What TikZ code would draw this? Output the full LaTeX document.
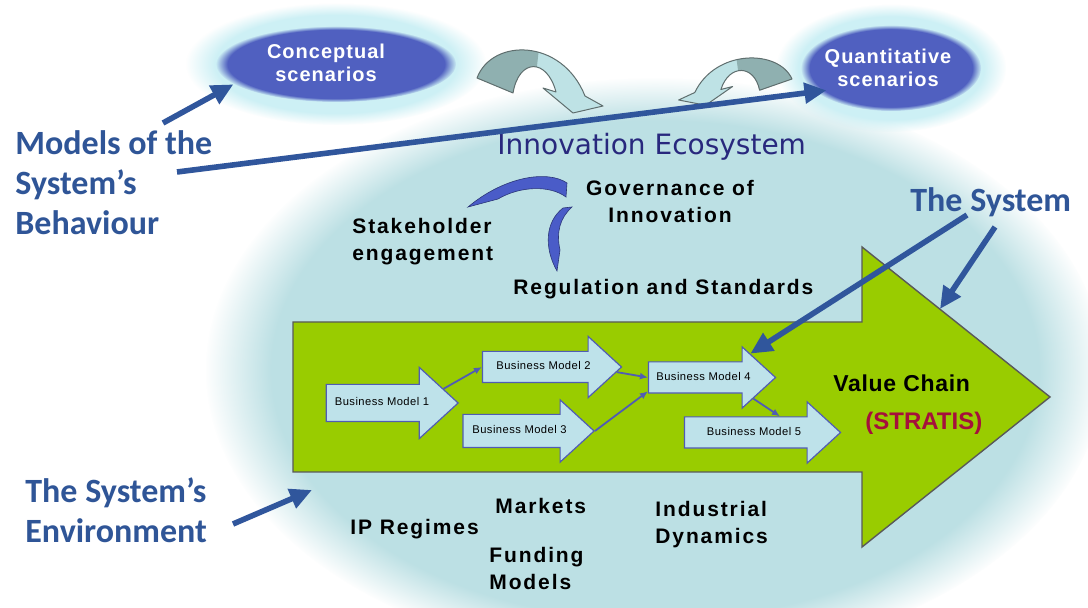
\documentclass[tikz,border=0pt]{standalone}
\usepackage{fontspec}
\setmainfont{Liberation Sans}
\newfontfamily\arsp[LetterSpace=9]{Liberation Sans}
\newfontfamily\arspb[LetterSpace=5]{Liberation Sans}
\newfontfamily\arspc[LetterSpace=3]{Liberation Sans}
\newfontfamily\bmfont[LetterSpace=4]{Liberation Sans}
\newfontfamily\calib{Carlito}
\newfontfamily\dejav{DejaVu Sans}
\usetikzlibrary{shapes.arrows,shapes.geometric,arrows.meta,fadings}
\definecolor{bgc}{RGB}{188,224,228}
\definecolor{vgreen}{RGB}{153,204,0}
\definecolor{bmfill}{RGB}{190,226,234}
\definecolor{bmline}{RGB}{80,92,180}
\definecolor{cloudb}{RGB}{80,96,192}
\definecolor{glowc}{RGB}{205,240,245}
\definecolor{lblue}{RGB}{47,85,151}
\definecolor{ablue}{RGB}{48,86,156}
\definecolor{navy}{RGB}{40,40,125}
\definecolor{crim}{RGB}{165,15,60}
\definecolor{swoosh}{RGB}{74,92,200}
\definecolor{arcdark}{RGB}{143,176,176}
\definecolor{arclight}{RGB}{190,226,229}
\definecolor{arcline}{RGB}{95,110,110}
\tikzset{carc/.pic={
  \fill[arclight] (0,28) .. controls (15,-12) and (85,-12) .. (108,46) -- (126,56) -- (96,63) -- (66,38) -- (79,42) .. controls (70,8) and (42,8) .. (36,43) -- cycle;
  \begin{scope}
    \clip (-5,-20) -- (64,-20) -- (54,70) -- (-5,70) -- cycle;
    \fill[arcdark] (0,28) .. controls (15,-12) and (85,-12) .. (108,46) -- (126,56) -- (96,63) -- (66,38) -- (79,42) .. controls (70,8) and (42,8) .. (36,43) -- cycle;
  \end{scope}
  \draw[arcline, line width=0.5pt, line join=round] (0,28) .. controls (15,-12) and (85,-12) .. (108,46) -- (126,56) -- (96,63) -- (66,38) -- (79,42) .. controls (70,8) and (42,8) .. (36,43) -- cycle;
}}
\begin{document}
\begin{tikzpicture}[x=0.5pt,y=-0.5pt,
  bluelabel/.style={font=\calib\bfseries\fontsize{17}{20}\selectfont, text=lblue, align=left, inner sep=0pt},
  blk/.style={font=\arsp\bfseries\fontsize{10.5}{13.5}\selectfont, text=black, inner sep=0pt},
  cloudtxt/.style={ellipse, font=\arspb\bfseries\fontsize{10}{11.5}\selectfont, text=white, align=center, inner sep=0pt},
  bm/.style={single arrow, draw=bmline, fill=bmfill, line width=0.6pt, font=\bmfont\fontsize{5.6}{6}\selectfont, text height=4pt, text depth=1pt, inner xsep=1pt, inner ysep=5pt, single arrow head extend=7.5pt, single arrow tip angle=85},
  conn/.style={draw=bmline, line width=0.9pt, -{Latex[length=4pt,width=3.5pt]}},
  sysarrow/.style={draw=ablue, line width=2.8pt, -{Triangle[length=11pt,width=10pt]}},
  swooshst/.style={fill=swoosh, draw=swoosh!60!black, line width=0.3pt},
]
\useasboundingbox (0,0) rectangle (1088,608);
\fill[white] (0,0) rectangle (1088,608);
\clip (0,0) rectangle (1088,608);

% ecosystem background
\fill[bgc, path fading=circle with fuzzy edge 15 percent] (655,370) ellipse (224.5pt and 146pt);

% clouds
\fill[glowc, path fading=circle with fuzzy edge 20 percent] (336,64) ellipse (75pt and 30.5pt);
\fill[cloudb, path fading=circle with fuzzy edge 10 percent] (336,64) ellipse (60pt and 19pt);
\fill[glowc, path fading=circle with fuzzy edge 20 percent] (891,68) ellipse (57.5pt and 32pt);
\fill[cloudb, path fading=circle with fuzzy edge 10 percent] (891,68) ellipse (45pt and 21.5pt);
\node[cloudtxt, minimum width=114pt, minimum height=36pt] (cs) at (326,63) {Conceptual\\scenarios};
\node[cloudtxt, minimum width=86pt, minimum height=41pt] (qs) at (888,68) {Quantitative\\scenarios};

% 3D curved arrows
\pic (arcL) at (477,50) {carc};
\pic[xscale=-0.9, yscale=0.75] (arcR) at (792,58) {carc};

% big value chain arrow
\filldraw[fill=vgreen, draw=black!65, line width=0.7pt, line join=miter]
  (293,322) -- (862,322) -- (862,247) -- (1050,397) -- (862,547) -- (862,472) -- (293,472) -- cycle;
\coordinate (headedge) at (940,309);

% business models
\node[bm, minimum height=66pt, inner ysep=6.5pt, single arrow head extend=8.5pt] (bm1) at (382,403) {Business Model 1};
\node[bm, minimum height=69.5pt] (bm2) at (543.5,367) {Business Model 2};
\node[bm, minimum height=65.5pt, inner ysep=5.5pt, single arrow head extend=7.25pt] (bm3) at (519.5,431) {Business Model 3};
\node[bm, minimum height=63.5pt] (bm4) at (703.5,377.5) {Business Model 4};
\node[bm, minimum height=78pt] (bm5) at (754,432.5) {Business Model 5};
\draw[conn] (bm1.13) -- (bm2.west);
\draw[conn] (bm2.-4) -- (bm4.west);
\draw[conn] (bm3.east) -- (bm4.194);
\draw[conn] (bm4.-23) -- (bm5.32);

% texts
\node[bluelabel, anchor=north west] (mlabel) at (15,130) {Models of the\\System’s\\Behaviour};
\node[bluelabel, anchor=north west] (envlabel) at (25,477) {The System’s\\Environment};
\node[bluelabel, anchor=base west] (syslabel) at (910,212) {The System};
\node[font=\dejav\fontsize{14}{16}\selectfont, text=navy, anchor=base west, inner sep=0pt] (eco) at (497,155) {Innovation Ecosystem};
\node[blk, align=center, anchor=north] (gov) at (670,180) {Governance of\\Innovation};
\node[blk, align=left, anchor=north west] (stake) at (352,218) {Stakeholder\\engagement};
\node[blk, anchor=base west] (reg) at (513,295) {Regulation and Standards};
\node[blk, anchor=base west] (mkt) at (495,514) {Markets};
\node[blk, anchor=base west] (ipr) at (350,535) {IP Regimes};
\node[blk, align=left, anchor=north west] (fund) at (489,547) {Funding\\Models};
\node[blk, align=left, anchor=north west] (ind) at (655,501) {Industrial\\Dynamics};
\node[font=\arspc\bfseries\fontsize{11.5}{13}\selectfont, anchor=base west, inner sep=0pt] (vc) at (833,392) {Value Chain};
\node[font=\bfseries\fontsize{12}{13}\selectfont, text=crim, anchor=base west, inner sep=0pt] (strat) at (865,430) {(STRATIS)};

% swooshes
\fill[swooshst] (567,183) .. controls (548,170) and (505,176) .. (468,207) -- (498,199) .. controls (520,186) and (550,185) .. (566,197) -- cycle;
\fill[swooshst] (563,208) .. controls (545,222) and (544,248) .. (557,271) -- (560,250) .. controls (556,232) and (560,218) .. (572,207) -- cycle;

% blue pointer arrows
\coordinate (m1) at (163,123);
\coordinate (m2) at (177,172);
\coordinate (s1) at (967,215);
\coordinate (s2) at (995,227);
\coordinate (e1) at (233,524);
\coordinate (e2) at (312,490);
\draw[sysarrow] (m1) -- (cs.193);
\draw[sysarrow, shorten >=-6pt] (m2) -- (qs.198);
\draw[sysarrow] (s1) -- (bm4.27);
\draw[sysarrow] (s2) -- (headedge);
\draw[sysarrow] (e1) -- (e2);
\end{tikzpicture}
\end{document}
